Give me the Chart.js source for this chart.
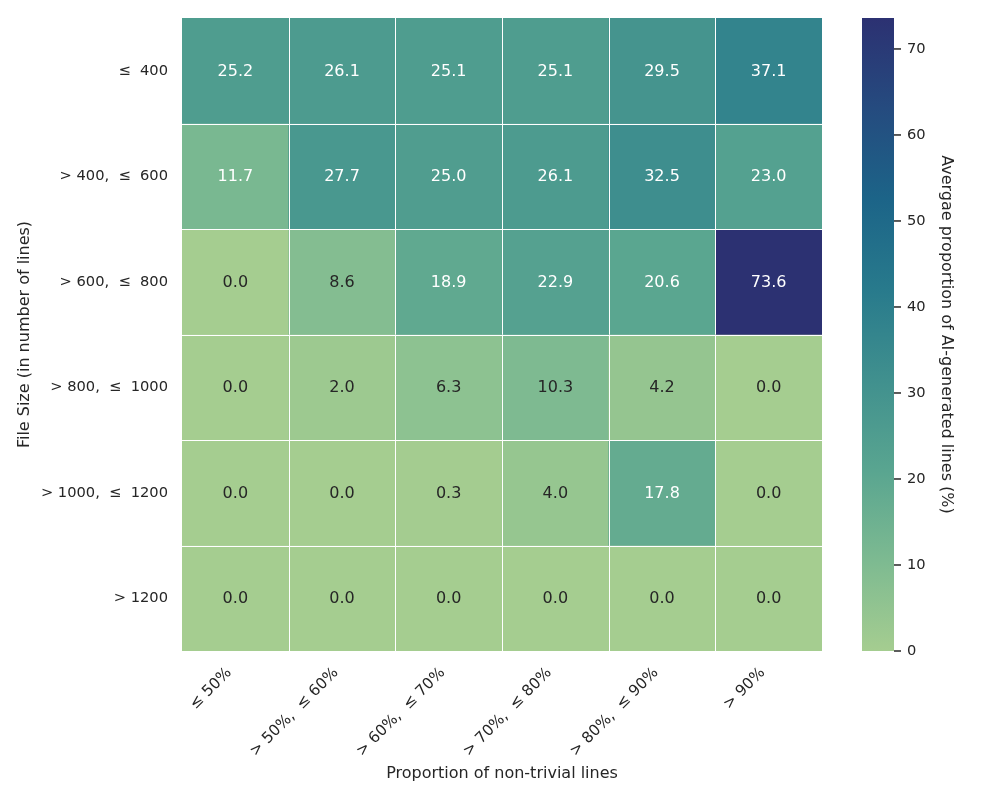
<!DOCTYPE html>
<html>
<head>
<meta charset="utf-8">
<script src="https://cdn.jsdelivr.net/npm/chart.js@4.4.1/dist/chart.umd.min.js"></script>
<style>
  html, body { margin: 0; padding: 0; background: #fff; }
</style>
</head>
<body>
<canvas id="heat" width="1000" height="800"></canvas>
<script>
const colLabels = ['≤ 50%', '> 50%,  ≤ 60%', '> 60%,  ≤ 70%', '> 70%,  ≤ 80%', '> 80%,  ≤ 90%', '> 90%']
const rowLabels = ['≤  400', '> 400,  ≤  600', '> 600,  ≤  800', '> 800,  ≤  1000', '> 1000,  ≤  1200', '> 1200']

// one array per file-size row, left to right
const rowUpTo400 = [25.2, 26.1, 25.1, 25.1, 29.5, 37.1]
const row400to600 = [11.7, 27.7, 25.0, 26.1, 32.5, 23.0]
const row600to800 = [0.0, 8.6, 18.9, 22.9, 20.6, 73.6]
const row800to1000 = [0.0, 2.0, 6.3, 10.3, 4.2, 0.0]
const row1000to1200 = [0.0, 0.0, 0.3, 4.0, 17.8, 0.0]
const rowOver1200 = [0.0, 0.0, 0.0, 0.0, 0.0, 0.0]
const heatRows = [rowUpTo400, row400to600, row600to800, row800to1000, row1000to1200, rowOver1200]

const cbTicks = [0, 10, 20, 30, 40, 50, 60, 70]
const vmax = 73.6

const INK = '#262626'
const FONT = 'DejaVu Sans'

// seaborn "crest" sampled
const crestStops = [
  [0, '#a5cd90'], [1 / 7, '#7dba91'], [2 / 7, '#59a590'], [3 / 7, '#40908e'],
  [4 / 7, '#287a8c'], [5 / 7, '#1c6488'], [6 / 7, '#254b7f'], [1, '#2c3172']
]
const hex = h => [1, 3, 5].map(i => parseInt(h.slice(i, i + 2), 16))

function crestRgb(t) {
  t = Math.max(0, Math.min(1, t))
  for (let i = 1; i < crestStops.length; i++) {
    if (t <= crestStops[i][0]) {
      const [t0, c0] = crestStops[i - 1]
      const [t1, c1] = crestStops[i]
      const f = (t - t0) / (t1 - t0)
      const a = hex(c0), b = hex(c1)
      return a.map((v, k) => Math.round(v + (b[k] - v) * f))
    }
  }
  return hex(crestStops[crestStops.length - 1][1])
}
const crest = t => 'rgb(' + crestRgb(t).join(',') + ')'

function luminance(rgb) {
  const c = rgb.map(v => {
    v /= 255
    return v <= 0.03928 ? v / 12.92 : Math.pow((v + 0.055) / 1.055, 2.4)
  })
  return 0.2126 * c[0] + 0.7152 * c[1] + 0.0722 * c[2]
}
const textColor = v => luminance(crestRgb(v / vmax)) > 0.408 ? INK : '#ffffff'

const heatText = {
  id: 'heatText',
  afterDatasetsDraw(chart) {
    const ctx = chart.ctx
    const area = chart.chartArea
    const xs = chart.scales.x
    const ys = chart.scales.y
    ctx.save()
    // white separators between cells
    ctx.strokeStyle = '#ffffff'
    ctx.lineWidth = 1
    for (let i = 1; i < colLabels.length; i++) {
      const x = Math.round(xs.getPixelForValue(i - 0.5)) + 0.5
      ctx.beginPath()
      ctx.moveTo(x, area.top)
      ctx.lineTo(x, area.bottom)
      ctx.stroke()
    }
    for (let i = 1; i < rowLabels.length; i++) {
      const y = Math.round(ys.getPixelForValue(i)) + 0.5
      ctx.beginPath()
      ctx.moveTo(area.left, y)
      ctx.lineTo(area.right, y)
      ctx.stroke()
    }

    ctx.font = '16px "' + FONT + '"'
    ctx.textAlign = 'center'
    ctx.textBaseline = 'middle'
    heatRows.forEach((vals, r) => {
      chart.getDatasetMeta(r).data.forEach((bar, c) => {
        ctx.fillStyle = textColor(vals[c])
        ctx.fillText(vals[c].toFixed(1), bar.x, (bar.y + bar.base) / 2 + 1)
      })
    })
    ctx.restore()
  },
  afterDraw(chart) {
    const ctx = chart.ctx
    const area = chart.chartArea
    const cb = chart.scales.cb
    const x0 = area.right + 40
    const w = 32
    const yTop = cb.getPixelForValue(vmax)
    const yBot = cb.getPixelForValue(0)
    ctx.save()
    const grad = ctx.createLinearGradient(0, yBot, 0, yTop)
    crestStops.forEach(([t, c]) => grad.addColorStop(t, c))
    ctx.fillStyle = grad
    ctx.fillRect(x0, yTop, w, yBot - yTop)

    ctx.strokeStyle = INK
    ctx.lineWidth = 1.5
    cbTicks.forEach(v => {
      const y = cb.getPixelForValue(v)
      ctx.beginPath()
      ctx.moveTo(x0 + w, y)
      ctx.lineTo(x0 + w + 7, y)
      ctx.stroke()
    })

    ctx.fillStyle = INK
    ctx.font = '16px "' + FONT + '"'
    ctx.textAlign = 'center'
    ctx.textBaseline = 'middle'
    const midY = (area.top + area.bottom) / 2
    ctx.fillText('Proportion of non-trivial lines', (area.left + area.right) / 2, 774)

    ctx.save()
    ctx.translate(25, midY)
    ctx.rotate(-Math.PI / 2)
    ctx.fillText('File Size (in number of lines)', 0, 0)
    ctx.restore()

    ctx.save()
    ctx.translate(946, midY)
    ctx.rotate(Math.PI / 2)
    ctx.fillText('Avergae proportion of AI-generated lines (%)', 0, 0)
    ctx.restore()
    ctx.restore()
  }
}

new Chart(document.getElementById('heat'), {
  type: 'bar',
  data: {
    labels: colLabels,
    datasets: heatRows.map((vals, r) => ({
      data: vals.map(() => [r, r + 1]),
      backgroundColor: vals.map(v => crest(v / vmax)),
      borderWidth: 0,
      grouped: false,
      barPercentage: 1,
      categoryPercentage: 1
    }))
  },
  options: {
    responsive: false,
    animation: false,
    events: [],
    layout: { padding: { top: 18, left: 0, right: 0, bottom: 0 } },
    plugins: { legend: { display: false }, tooltip: { enabled: false } },
    scales: {
      x: {
        type: 'category',
        grid: { display: false, drawTicks: true, tickLength: 13 },
        border: { display: false },
        ticks: {
          autoSkip: false,
          maxRotation: 45,
          minRotation: 45,
          padding: 0,
          labelOffset: -6,
          color: INK,
          font: { family: FONT, size: 15.3 }
        },
        afterFit(scale) { scale.height = 149 }
      },
      y: {
        type: 'linear',
        reverse: true,
        min: 0,
        max: 6,
        grid: { display: false, drawTicks: true, tickLength: 14 },
        border: { display: false },
        afterBuildTicks(scale) { scale.ticks = rowLabels.map((_, i) => ({ value: i + 0.5 })) },
        ticks: {
          padding: 0,
          color: INK,
          font: { family: FONT, size: 14.67 },
          callback: (v, i) => rowLabels[i]
        },
        afterFit(scale) { scale.width = 182 }
      },
      cb: {
        type: 'linear',
        position: 'right',
        min: 0,
        max: vmax,
        grid: { display: false, drawTicks: true, tickLength: 85 },
        border: { display: false },
        afterBuildTicks(scale) { scale.ticks = cbTicks.map(v => ({ value: v })) },
        ticks: {
          padding: 0,
          color: INK,
          font: { family: FONT, size: 14.67 }
        },
        afterFit(scale) { scale.width = 178 }
      }
    }
  },
  plugins: [heatText]
})
</script>
</body>
</html>
